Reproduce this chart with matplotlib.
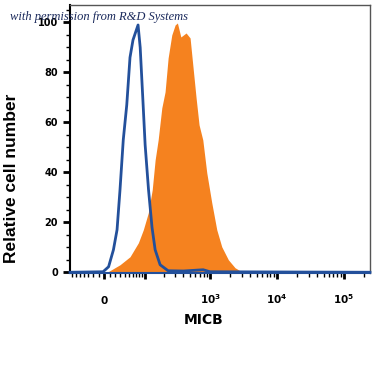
import numpy as np
import matplotlib
matplotlib.use("Agg")
import matplotlib.pyplot as plt
from matplotlib.ticker import FixedLocator

# ---- data (fluorescence intensity, relative cell number) ----
isotype_x = [-77, -2, 8, 17, 24, 30, 37, 45, 53, 61, 76, 83, 92, 101, 115, 131,
             147, 176, 234, 400, 790, 1000, 2.46e5]
isotype_y = [0, 0.2, 2.2, 9, 17, 33, 53, 67, 86, 93, 99, 90, 70, 51, 33, 18,
             9, 3, 0.6, 0.5, 1.0, 0.2, 0]

micb_x = [7, 30, 53, 77, 94, 114, 132, 147, 164, 187, 210, 234, 266, 299, 324,
          365, 438, 503, 558, 619, 686, 780, 895, 1063, 1263, 1499, 1880, 2368, 2982]
micb_y = [0.2, 3, 6.2, 11.8, 17, 23.8, 33, 45, 53, 65.8, 72.2, 85.8, 95, 99, 99.8,
          94.2, 95.8, 93.8, 81.8, 69.8, 59, 53, 39.8, 27.8, 17, 10.2, 5, 1.8, 0.2]

x_major = [0, 100, 1e3, 1e4, 1e5]
x_major_labels = ["0", "", r"$\mathbf{10^{3}}$", r"$\mathbf{10^{4}}$", r"$\mathbf{10^{5}}$"]
y_major = [0, 20, 40, 60, 80, 100]

C = 52.5
def fwd(x):
    return np.arcsinh(np.asarray(x) / C) / np.log(10)
def inv(y):
    return C * np.sinh(np.asarray(y) * np.log(10))

ORANGE = "#F5821F"
BLUE = "#23509B"

fig = plt.figure(figsize=(3.75, 3.75), dpi=100)
ax = fig.add_axes([70/375, 1-273/375, 300/375, 268/375])
ax.set_xscale("function", functions=(fwd, inv))

ax.fill_between(micb_x, micb_y, 0, color=ORANGE, lw=0, zorder=2)
ax.plot(isotype_x, isotype_y, color=BLUE, lw=2.0, zorder=3, clip_on=False,
        solid_joinstyle="round")

ax.set_xlim(-77, 2.46e5)
ax.set_ylim(-0.3, 107)

# spines
ax.spines["left"].set_color("black")
ax.spines["left"].set_linewidth(1.5)
for s in ("top", "right"):
    ax.spines[s].set_color("#555555")
    ax.spines[s].set_linewidth(1.0)
ax.spines["bottom"].set_color(BLUE)
ax.spines["bottom"].set_linewidth(1.5)

# y ticks
ax.set_yticks(y_major)
ax.set_yticklabels([str(v) for v in y_major], fontsize=7, fontweight="bold",
                   family="DejaVu Sans")
ax.yaxis.set_minor_locator(FixedLocator([v for v in range(5, 106, 5) if v % 20]))
ax.tick_params(axis="y", which="major", length=5, width=2, pad=3.5, color="black")
ax.tick_params(axis="y", which="minor", length=3, width=1, color="black")

# x ticks
minors = [-70, -60, -50, -40, -30, -20, -10, 10, 20, 30, 40, 50, 60, 70, 80, 90]
minors += [m * 10**k for k in (2, 3, 4) for m in range(2, 10)]
minors += [2e5]
ax.set_xticks(x_major)
ax.set_xticklabels(x_major_labels, fontsize=7.5, fontweight="bold", family="DejaVu Sans")
ax.xaxis.set_minor_locator(FixedLocator(minors))
ax.xaxis.set_minor_formatter(plt.NullFormatter())
ax.tick_params(axis="x", which="major", length=4, width=2, pad=18, color="black")
ax.tick_params(axis="x", which="minor", length=3, width=1, color="black")
for lab in ax.get_xticklabels():
    lab.set_verticalalignment("baseline")

# labels
fig.text(12/375, 1-178/375, "Relative cell number", rotation=90, ha="center",
         va="center", fontsize=12.5, fontweight="bold", family="Liberation Sans")
fig.text(204/375, 1-320/375, "MICB", ha="center", va="center", fontsize=10,
         fontweight="bold", family="DejaVu Sans")

# watermark
fig.text(10/375, 1-20/375, "with permission from R&D Systems", ha="left",
         va="baseline", fontsize=9, style="italic", family="Liberation Serif",
         color="#1B2A5C", zorder=10)

fig.savefig("out.png", dpi=100)
